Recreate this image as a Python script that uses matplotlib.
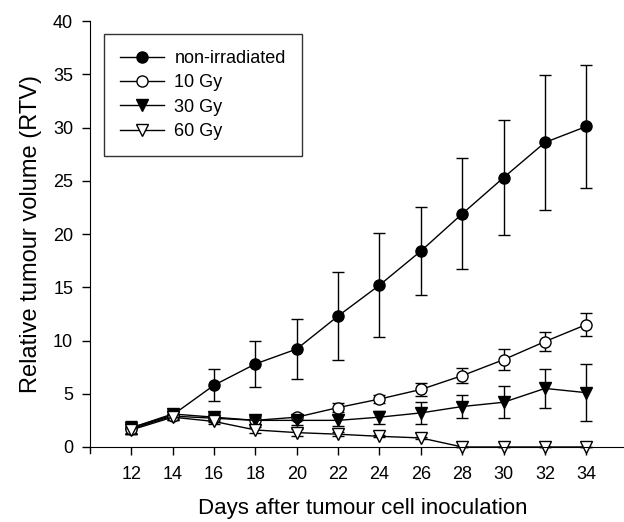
import numpy as np
import matplotlib
matplotlib.use("Agg")
from matplotlib import pyplot as plt

# region: data
days = [12, 14, 16, 18, 20, 22, 24, 26, 28, 30, 32, 34]

ctrl_mean = [1.8, 3.0, 5.8, 7.8, 9.2, 12.3, 15.2, 18.4, 21.9, 25.3, 28.6, 30.1]
ctrl_err = [0.6, 0.4, 1.5, 2.2, 2.8, 4.1, 4.9, 4.1, 5.2, 5.4, 6.3, 5.8]

gy10_mean = [1.7, 2.9, 2.7, 2.5, 2.8, 3.7, 4.5, 5.4, 6.7, 8.2, 9.9, 11.5]
gy10_err = [0.5, 0.4, 0.4, 0.3, 0.3, 0.4, 0.4, 0.6, 0.7, 1.0, 0.9, 1.1]

gy30_mean = [1.8, 3.1, 2.8, 2.5, 2.5, 2.5, 2.8, 3.2, 3.8, 4.2, 5.5, 5.1]
gy30_err = [0.5, 0.4, 0.4, 0.4, 0.4, 0.5, 0.6, 1.0, 1.1, 1.5, 1.8, 2.7]

gy60_mean = [1.6, 2.8, 2.4, 1.6, 1.35, 1.2, 1.0, 0.85, 0.0, 0.0, 0.0, 0.0]
gy60_err = [0.4, 0.3, 0.2, 0.3, 0.3, 0.2, 0.1, 0.1, 0.0, 0.0, 0.0, 0.0]

labels = ["non-irradiated", "10 Gy", "30 Gy", "60 Gy"]
# endregion

# region: plot
plt.rcParams['font.family'] = ['Liberation Sans', 'DejaVu Sans']

fig = plt.figure(figsize=(6.24, 5.22), dpi=100)
ax = fig.add_axes([0.144, 0.1437, 0.862, 0.816])

series = [
    (ctrl_mean, ctrl_err, 'o', 'black'),
    (gy10_mean, gy10_err, 'o', 'white'),
    (gy30_mean, gy30_err, 'v', 'black'),
    (gy60_mean, gy60_err, 'v', 'white'),
]
for (m, e, mk, fc), lab in zip(series, labels):
    ax.errorbar(days, m, yerr=e, color='black', lw=1, marker=mk, ms=8,
                mfc=fc, mec='black', mew=1, capsize=4.5, elinewidth=1,
                capthick=1, label=lab, clip_on=False)

ax.set_xlim(10, 36)
ax.set_ylim(0, 40)
ax.set_xticks(days)
ax.set_yticks(np.arange(0, 41, 5))
ax.spines['top'].set_visible(False)
ax.spines['right'].set_visible(False)
ax.tick_params(direction='out', length=6, width=1, labelsize=13)
ax.tick_params(axis='x', pad=7.5)
ax.tick_params(axis='y', pad=6)
ax.set_xlabel("Days after tumour cell inoculation", fontsize=16, va='baseline')
ax.xaxis.set_label_coords(0.508, -0.158)
ax.set_ylabel("Relative tumour volume (RTV)", fontsize=17, labelpad=8)

# extra tick at the axis origin, as in the original
ax.plot([10, 10], [0, -0.6], color='black', lw=1, clip_on=False)

handles, labs = ax.get_legend_handles_labels()
handles = [h[0] for h in handles]
leg = ax.legend(handles, labs, loc='upper left', bbox_to_anchor=(0.0195, 0.978),
                fontsize=13, handlelength=2.4, handletextpad=0.6,
                frameon=True, fancybox=False, edgecolor='black',
                borderpad=0.9, labelspacing=0.4, borderaxespad=0.2)
leg.get_frame().set_linewidth(1)

fig.savefig("out.png", dpi=100)
# endregion
